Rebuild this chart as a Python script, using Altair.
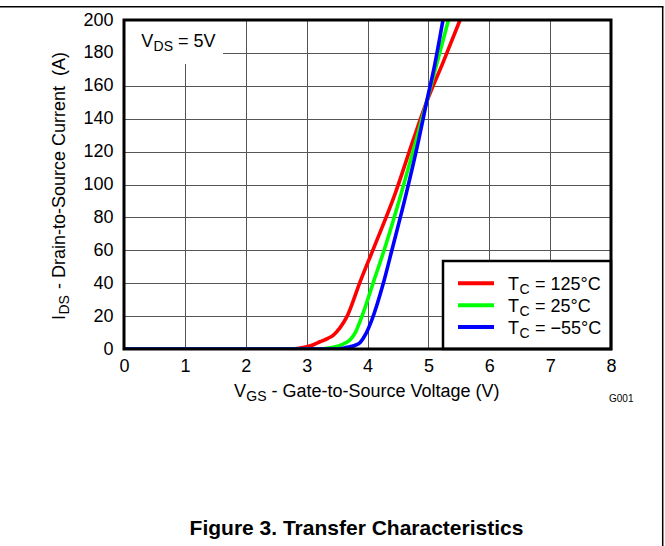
import altair as alt
import pandas as pd

# ---- data ----
vgs_125 = [0, 2.75, 2.9, 3.05, 3.22, 3.35, 3.44, 3.55, 3.66, 3.88, 4.12, 4.45, 4.75, 4.97, 5.25, 5.52]
ids_125 = [0, 0, 0.6, 1.8, 4.4, 6.5, 8.5, 13, 19.5, 41, 63, 94, 127, 150, 175, 200]

vgs_25 = [0, 3.2, 3.44, 3.6, 3.71, 3.8, 3.9, 4.1, 4.29, 4.55, 4.8, 4.97, 5.15, 5.33]
ids_25 = [0, 0, 1, 3, 5.5, 10, 19, 41, 62, 94, 127, 150, 175, 200]

vgs_m55 = [0, 3.5, 3.66, 3.78, 3.88, 3.97, 4.07, 4.26, 4.4, 4.62, 4.84, 4.97, 5.1, 5.24]
ids_m55 = [0, 0, 1, 2, 4, 9, 17.6, 40, 60, 92, 127, 150, 172, 200]

series_names = ["125°C", "25°C", "\u221255°C"]
series_colors = ["#ff0000", "#00ff00", "#0000ff"]

x_ticks = [0, 1, 2, 3, 4, 5, 6, 7, 8]
y_ticks = [0, 20, 40, 60, 80, 100, 120, 140, 160, 180, 200]

W, H = 487, 329
FONT = "Liberation Sans"
one = pd.DataFrame({"k": [0]})

x_enc = alt.X("vgs:Q", scale=alt.Scale(domain=[0, 8], nice=False, zero=False),
              axis=alt.Axis(values=x_ticks, title=None, labelPadding=8.5, format="d",
                            labelFlush=False))
y_enc = alt.Y("ids:Q", scale=alt.Scale(domain=[0, 200], nice=False),
              axis=alt.Axis(values=y_ticks, title=None, labelPadding=11, format="d",
                            labelFlush=False))


def curve(vgs, ids, color):
    df = pd.DataFrame({"vgs": vgs, "ids": ids})
    return alt.Chart(df).mark_line(color=color, strokeWidth=3.6, interpolate="monotone",
                                   clip=True).encode(x=x_enc, y=y_enc)


def txt(s, x, y, size=18, **kw):
    return alt.Chart(one).mark_text(text=s, font=FONT, fontSize=size, align=kw.pop("align", "left"),
                                    baseline="alphabetic", color="black", **kw).encode(
        x=alt.value(x), y=alt.value(y))


def hrule(x1, x2, y, color="black", w=1.5):
    return alt.Chart(one).mark_rule(color=color, strokeWidth=w).encode(
        x=alt.value(x1), x2=alt.value(x2), y=alt.value(y))


def vrule(x, y1, y2, color="black", w=1.5):
    return alt.Chart(one).mark_rule(color=color, strokeWidth=w).encode(
        x=alt.value(x), y=alt.value(y1), y2=alt.value(y2))


def box(x1, x2, y1, y2, **kw):
    return alt.Chart(one).mark_rect(**kw).encode(
        x=alt.value(x1), x2=alt.value(x2), y=alt.value(y1), y2=alt.value(y2))


layers = []
# white box behind the V_DS annotation
layers.append(box(0, 99, 0, 44, fill="white"))
# curves
layers.append(curve(vgs_125, ids_125, series_colors[0]))
layers.append(curve(vgs_25, ids_25, series_colors[1]))
layers.append(curve(vgs_m55, ids_m55, series_colors[2]))

# V_DS = 5V annotation
layers += [txt("V", 17.2, 26.7), txt("DS", 29.6, 30.7, size=14), txt("= 5V", 54, 26.7)]

# legend
layers.append(box(319, 487, 241, 329, fill="white", stroke="black", strokeWidth=2.5))
row_y = [263.3, 285.3, 307]
for name, col, ry in zip(series_names, series_colors, row_y):
    layers.append(hrule(334, 370, ry, color=col, w=4))
    layers.append(txt("T", 384, ry + 6.7))
    layers.append(txt("C", 395.5, ry + 10.5, size=14))
    layers.append(txt("= " + name, 411, ry + 6.7))

# x axis title
layers += [txt("V", 110, 376.7), txt("GS", 122.3, 380.7, size=14),
           txt("- Gate-to-Source Voltage (V)", 147.5, 376.7)]
# y axis title (rotated)
layers += [txt("I", -59, 300, angle=270), txt("DS", -55, 294.5, size=14, angle=270),
           txt("- Drain-to-Source Current\u00a0 (A)", -59, 269, angle=270)]

# G001 tag and figure caption
layers.append(txt("G001", 485, 381.5, size=10))
layers.append(txt("Figure 3. Transfer Characteristics", 232.5, 515, size=21,
                  fontWeight="bold", align="center"))

# plot frame
layers.append(box(0, W, 0, H, fillOpacity=0, stroke="black", strokeWidth=3))
# outer page frame (top and right edges)
layers.append(hrule(-124, 539.5, -13.3, w=1.5))
layers.append(vrule(538.7, -13.3, 526, w=1.5))

chart = alt.layer(*layers).properties(
    width=W, height=H,
    padding={"left": 124, "top": 20, "right": 54, "bottom": 197},
    autosize=alt.AutoSizeParams(type="none"),
    background="white",
).configure_view(stroke=None).configure_axis(
    grid=True, gridColor="#555555", gridWidth=1, gridOpacity=1,
    domain=False, ticks=False,
    labelFont=FONT, labelFontSize=18, labelColor="black",
)

chart.save("out.html", embed_options={"renderer": "svg", "actions": False})
